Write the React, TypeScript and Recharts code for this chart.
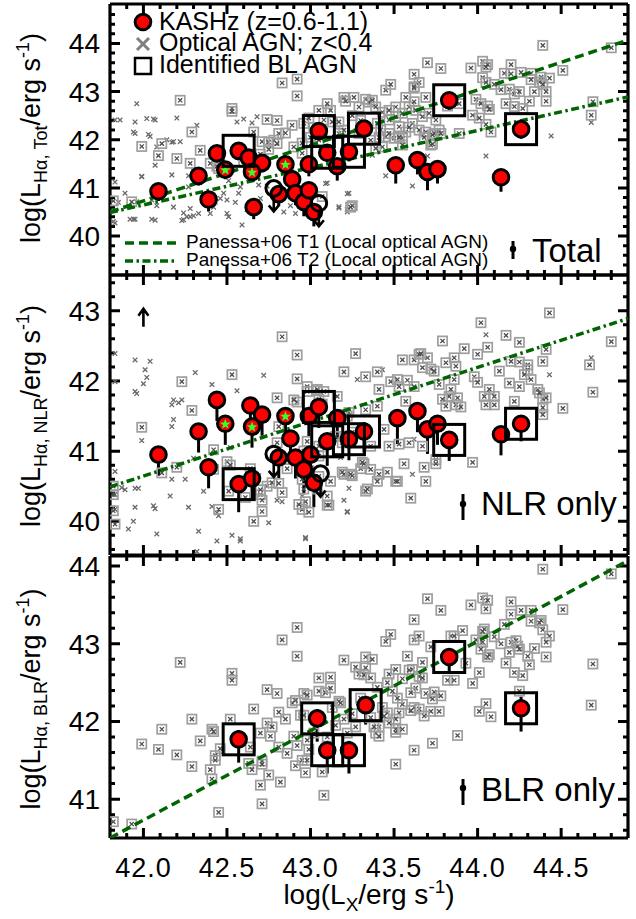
import React from 'react';
import { ScatterChart, Scatter, XAxis, YAxis, ErrorBar, ReferenceLine } from 'recharts';

const FONT = '"Liberation Sans", Arial, Helvetica, sans-serif';
const GREEN = '#006400';
type P = [number, number];

// ---------- axes ----------
const X_DOMAIN: [number, number] = [41.8, 44.9];
const X_MAJOR = [42.0, 42.5, 43.0, 43.5, 44.0, 44.5];
const X_MINOR = [41.9, 42.1, 42.2, 42.3, 42.4, 42.6, 42.7, 42.8, 42.9, 43.1, 43.2, 43.3, 43.4, 43.6, 43.7, 43.8, 43.9, 44.1, 44.2, 44.3, 44.4, 44.6, 44.7, 44.8];

const TOT_DOMAIN: [number, number] = [39.19, 44.82];
const TOT_MAJOR = [40, 41, 42, 43, 44];
const TOT_MINOR = [39.4, 39.6, 39.8, 40.2, 40.4, 40.6, 40.8, 41.2, 41.4, 41.6, 41.8, 42.2, 42.4, 42.6, 42.8, 43.2, 43.4, 43.6, 43.8, 44.2, 44.4, 44.6];

const NLR_DOMAIN: [number, number] = [39.52, 43.51];
const NLR_MAJOR = [40, 41, 42, 43];
const NLR_MINOR = [39.6, 39.8, 40.2, 40.4, 40.6, 40.8, 41.2, 41.4, 41.6, 41.8, 42.2, 42.4, 42.6, 42.8, 43.2, 43.4];

const BLR_DOMAIN: [number, number] = [40.5, 44.13];
const BLR_MAJOR = [41, 42, 43, 44];
const BLR_MINOR = [40.6, 40.8, 41.2, 41.4, 41.6, 41.8, 42.2, 42.4, 42.6, 42.8, 43.2, 43.4, 43.6, 43.8];

// ---------- Panessa+06 relations ----------
const T1_LINE: P[] = [[41.8, 40.5], [44.9, 44.07]];
const T2_LINE: P[] = [[41.8, 40.49], [44.9, 42.89]];

// ---------- KASHz (z=0.6-1.1) ----------
const K_TOT_X = [42.09, 42.33, 42.39, 42.44, 42.57, 42.63, 42.66, 42.71, 42.81, 42.89, 42.91, 42.96, 42.99, 42.99, 43.02, 43.05, 43.10, 43.16, 43.23, 43.32, 43.51, 43.64, 43.70, 43.76, 43.83, 44.14, 44.26];
const K_TOT_Y = [40.93, 41.25, 40.76, 41.72, 41.77, 41.63, 40.60, 41.52, 40.87, 41.18, 40.89, 40.71, 40.95, 41.49, 40.50, 42.18, 41.73, 41.45, 41.75, 42.23, 41.47, 41.58, 41.33, 41.39, 42.82, 41.22, 42.22];
const K_TOT_ELO = [0.2, 0.2, 0.25, 0.2, 0.2, 0.2, 0.25, 0.2, 0.25, 0.25, 0.25, 0.3, 0.25, 0.25, 0.3, 0.2, 0.2, 0.3, 0.2, 0.2, 0.38, 0.3, 0.38, 0.3, 0.2, 0.3, 0.2];
const K_TOT_STAR_X = [42.49, 42.65, 42.85];
const K_TOT_STAR_Y = [41.38, 41.33, 41.49];
const K_TOT_UL_X = [42.78, 43.05];
const K_TOT_UL_Y = [40.99, 40.68];
const BL_TOT_X = [42.57, 43.05, 43.10, 43.23, 43.32, 43.83, 44.26];
const BL_TOT_Y = [41.77, 42.18, 41.73, 41.75, 42.23, 42.82, 42.22];

const K_NLR_X = [42.09, 42.33, 42.39, 42.44, 42.57, 42.64, 42.65, 42.71, 42.81, 42.88, 42.91, 42.96, 43.00, 42.99, 43.02, 43.05, 43.10, 43.16, 43.23, 43.32, 43.52, 43.64, 43.70, 43.76, 43.83, 44.14, 44.26];
const K_NLR_Y = [40.95, 41.28, 40.77, 41.73, 40.53, 41.65, 40.61, 41.52, 40.91, 41.18, 40.91, 40.74, 40.95, 41.50, 40.55, 41.63, 41.14, 41.47, 41.17, 41.28, 41.47, 41.57, 41.31, 41.39, 41.16, 41.24, 41.39];
const K_NLR_ELO = [0.3, 0.3, 0.3, 0.3, 0.4, 0.3, 0.3, 0.3, 0.3, 0.3, 0.3, 0.35, 0.3, 0.3, 0.35, 0.3, 0.35, 0.3, 0.3, 0.3, 0.37, 0.3, 0.35, 0.3, 0.3, 0.3, 0.25];
const K_NLR_STAR_X = [42.49, 42.65, 42.85];
const K_NLR_STAR_Y = [41.39, 41.35, 41.50];
const K_NLR_UL_X = [42.78, 43.06];
const K_NLR_UL_Y = [40.96, 40.68];
const BL_NLR_X = [42.57, 43.05, 43.10, 43.23, 43.32, 43.83, 44.26];
const BL_NLR_Y = [40.53, 41.63, 41.14, 41.17, 41.28, 41.16, 41.39];
const NLR_OFFSCALE: P[] = [[42.0, 42.9]];

const K_BLR_X = [42.57, 43.04, 43.10, 43.23, 43.33, 43.83, 44.26];
const K_BLR_Y = [41.77, 42.04, 41.63, 41.63, 42.21, 42.83, 42.17];
const K_BLR_ELO = [0.3, 0.3, 0.3, 0.3, 0.25, 0.2, 0.3];
const K_BLR_EHI = [0.12, 0.12, 0.12, 0.12, 0.12, 0.1, 0.15];

// ---------- local optical AGN (z<0.4) ----------
const TOT_BL_LOCAL: P[] = [[41.82,40.73],[41.93,40.71],[41.99,41.86],[42.09,41.67],[42.11,41.92],[42.2,41.61],[42.22,42.82],[42.29,42.16],[42.34,41.78],[42.4,41.51],[42.28,41.51],[42.53,42.65],[42.53,42.59],[42.74,42.42],[42.8,42.4],[42.66,42.16],[42.81,42.13],[42.85,42.14],[42.71,41.96],[42.75,41.95],[42.78,41.99],[42.8,41.92],[42.83,43.18],[42.92,43.26],[42.92,42.91],[42.89,42.3],[42.96,42.34],[42.44,41.45],[42.45,41.4],[42.6,41.55],[42.7,41.7],[42.75,41.8],[42.9,41.85],[42.95,41.93],[42.95,41.72],[43.0,42.05],[43.05,41.99],[43.05,42.61],[43.12,42.61],[43.08,42.41],[43.13,42.37],[43.17,42.37],[43.17,42.13],[43.2,42.88],[43.26,42.88],[43.21,42.8],[43.29,42.68],[43.33,42.84],[43.35,42.78],[43.29,42.13],[43.36,41.99],[43.41,42.05],[43.43,41.85],[43.4,42.34],[43.43,42.57],[43.45,43.03],[43.48,43.15],[43.51,42.68],[43.57,42.88],[43.62,43.07],[43.62,43.36],[43.65,43.19],[43.62,43.1],[43.69,42.88],[43.7,43.6],[43.78,43.48],[43.37,42.82],[43.39,42.68],[43.47,42.61],[43.51,42.48],[43.55,42.55],[43.59,42.68],[43.63,42.61],[43.67,42.48],[43.71,42.55],[43.75,42.41],[43.47,42.41],[43.53,42.27],[43.57,42.16],[43.61,42.34],[43.65,42.2],[43.69,42.16],[43.73,42.1],[43.77,42.2],[43.42,42.2],[43.45,42.06],[43.5,42.03],[43.55,42.03],[43.72,41.89],[43.39,41.82],[43.53,42.05],[43.59,42.26],[43.47,42.13],[43.68,42.05],[43.74,42.13],[43.55,41.89],[43.78,42.13],[43.73,41.91],[43.89,42.13],[43.62,42.79],[43.82,42.7],[43.89,42.75],[43.96,43.49],[44.03,43.63],[44.06,43.56],[44.05,43.51],[44.2,43.56],[44.16,43.38],[44.2,43.37],[44.26,43.4],[44.32,43.38],[44.32,43.25],[44.38,43.3],[44.37,43.2],[44.43,43.28],[44.39,43.15],[44.41,43.0],[44.51,43.44],[44.14,43.04],[43.99,42.84],[44.03,43.29],[44.05,43.19],[44.1,43.15],[44.02,42.75],[44.06,42.7],[44.07,42.63],[44.19,43.05],[44.22,42.95],[44.25,43.0],[44.34,43.0],[44.31,42.8],[44.41,42.8],[44.17,42.75],[44.22,42.69],[44.27,42.65],[44.69,42.79],[44.68,42.51],[44.05,42.32],[44.08,42.16],[43.97,42.51],[44.01,42.45],[44.39,43.96],[44.8,43.91],[43.07,40.82],[43.25,40.63],[43.24,40.6],[43.02,42.25],[43.25,42.5],[43.1,42.75],[43.2,42.2],[43.3,42.4],[42.99,42.45]];

const TOT_T2_LOCAL: P[] = [[41.96,42.75],[42.02,42.44],[42.07,42.41],[41.95,42.37],[41.86,42.41],[41.83,42.41],[42.06,42.43],[41.94,42.16],[42.03,42.11],[41.95,42.13],[42.04,42.07],[42.18,41.96],[42.22,41.96],[42.17,41.27],[41.99,41.23],[42.27,41.02],[42.32,42.3],[42.56,42.37],[42.68,42.48],[42.48,40.89],[42.46,40.78],[42.43,40.7],[42.5,40.75],[42.55,40.7],[42.57,40.89],[42.51,40.4],[42.4,40.47],[42.33,40.47],[42.28,40.4],[42.24,40.34],[42.05,40.35],[41.92,40.35],[41.94,40.35],[41.83,40.27],[41.96,40.71],[41.85,40.7],[42.59,40.23],[42.5,40.47],[42.84,40.5],[42.88,40.63],[42.91,40.47],[43.17,40.61],[43.22,40.5],[43.22,40.88],[43.09,41.09],[42.27,41.25],[42.3,41.35],[42.33,41.32],[42.64,41.65],[42.58,41.02],[42.51,41.15],[42.7,40.78],[42.74,41.04],[42.69,41.06],[42.07,41.47],[42.17,41.95],[41.83,41.12],[41.89,40.89],[41.99,41.24],[42.05,40.75],[42.08,40.63],[42.07,40.33],[41.95,40.35],[41.82,40.3],[42.18,40.6],[42.24,40.48],[42.26,40.4],[42.3,40.42],[42.28,40.57],[42.23,40.32],[44.44,42.08],[44.05,41.66],[43.45,41.25],[43.61,41.04],[43.7,41.66],[43.17,40.58],[43.22,40.55],[43.23,40.89],[43.1,41.1],[43.37,41.68],[44.68,42.36],[42.42,40.6],[42.62,40.55],[42.95,40.85],[42.08,41.85],[42.14,42.0],[42.6,42.43],[42.65,42.35],[42.2,42.45]];

const NLR_BL_LOCAL: P[] = [[41.82,40.5],[41.82,40.15],[41.83,39.96],[41.82,40.38],[41.99,41.34],[42.11,40.69],[42.2,40.77],[42.23,41.99],[42.29,41.58],[42.42,41.02],[42.42,40.74],[42.45,40.17],[42.53,42.09],[42.5,40.85],[42.52,40.8],[42.51,40.43],[42.61,40.34],[42.64,40.75],[42.66,40.0],[42.7,40.38],[42.71,40.14],[42.71,40.3],[42.74,40.5],[42.77,40.55],[42.81,40.54],[42.83,40.41],[42.7,40.45],[42.8,41.76],[42.83,42.63],[42.92,42.37],[42.92,42.03],[42.92,41.7],[42.81,41.35],[42.8,41.12],[42.86,40.75],[42.95,40.6],[42.95,40.17],[42.97,40.28],[43.04,41.86],[43.11,40.23],[43.2,42.13],[43.27,42.39],[43.2,40.67],[43.25,40.65],[43.33,40.43],[43.3,40.75],[43.32,40.82],[42.9,41.73],[42.98,41.14],[43.05,41.07],[43.19,41.12],[43.25,41.27],[43.23,41.55],[43.33,41.59],[43.4,41.64],[43.44,41.31],[43.47,41.07],[43.36,41.07],[43.31,40.84],[43.36,40.74],[43.41,40.67],[43.46,40.7],[43.51,40.57],[43.4,40.57],[43.34,40.46],[43.19,40.7],[43.24,40.67],[43.12,40.57],[43.05,40.64],[43.1,40.23],[42.99,40.13],[43.57,41.71],[43.97,40.84],[43.4,42.13],[43.33,42.06],[43.48,41.99],[43.58,42.01],[43.52,42.02],[43.62,42.3],[43.65,42.38],[43.67,42.19],[43.72,42.17],[43.74,42.14],[43.7,42.33],[43.77,41.95],[43.62,41.92],[43.53,41.92],[43.41,41.88],[43.81,42.26],[43.92,42.46],[43.79,42.57],[44.02,42.83],[44.43,42.97],[44.17,42.65],[44.25,42.55],[44.06,42.48],[44.0,42.38],[43.98,42.06],[44.0,41.98],[44.2,42.28],[44.25,42.27],[44.3,42.23],[44.3,42.16],[44.39,42.28],[44.28,42.09],[44.32,42.02],[44.41,42.45],[44.13,42.14],[44.19,41.97],[44.25,41.92],[44.22,41.71],[44.36,41.88],[44.39,41.74],[44.41,41.76],[44.39,41.62],[44.39,41.52],[44.37,41.83],[44.04,41.78],[44.05,41.66],[44.07,41.88],[44.1,41.78],[44.1,41.66],[43.86,42.02],[43.84,41.88],[43.83,41.78],[43.79,41.74],[43.88,41.76],[43.87,41.66],[43.9,41.63],[43.81,41.64],[43.86,42.33],[43.87,42.21],[44.51,41.61],[44.69,41.84],[44.8,42.56],[44.67,42.23],[42.98,41.92],[42.98,41.85],[43.04,41.88],[43.08,41.85],[43.05,41.74],[43.07,41.67],[43.16,41.78],[43.19,41.52],[43.22,41.5],[43.15,41.21],[43.05,40.93],[42.96,41.0],[42.98,40.9],[42.99,40.72],[42.96,40.46],[43.04,40.46],[43.1,40.36],[42.93,40.24],[43.53,41.1],[43.59,41.12],[43.67,41.07],[43.75,40.88],[43.75,40.82],[43.68,40.77],[43.69,40.57],[43.56,40.82],[43.52,40.57],[43.6,40.33],[43.66,42.39],[43.55,42.3]];

const NLR_T2_LOCAL: P[] = [[41.83,42.39],[41.95,42.3],[42.04,42.28],[42.01,42.16],[42.02,42.05],[42.0,41.96],[41.95,41.85],[41.96,41.82],[41.83,41.99],[42.31,42.12],[42.41,41.95],[42.56,41.86],[42.72,42.08],[42.18,41.73],[42.23,41.73],[42.18,41.45],[41.99,41.15],[42.17,41.66],[42.21,41.69],[42.17,41.35],[41.83,40.71],[41.87,40.48],[41.89,40.45],[41.95,40.47],[41.97,40.47],[41.83,40.38],[41.83,40.17],[41.95,40.2],[42.06,40.22],[42.07,40.18],[41.94,40.0],[41.91,39.89],[42.08,39.82],[42.17,40.6],[42.16,40.36],[42.27,40.2],[42.33,39.86],[42.25,40.6],[42.21,40.8],[42.36,40.43],[42.41,40.21],[42.44,40.12],[42.45,40.08],[42.53,39.8],[42.58,39.75],[42.58,39.72],[42.44,39.72],[42.32,39.57],[42.75,39.98],[42.97,39.75],[42.95,40.36],[43.22,40.14],[42.8,40.3],[42.83,40.28],[42.6,40.6],[42.62,40.7],[42.69,40.65],[42.52,41.05],[43.2,40.3],[42.3,40.9],[43.28,42.02],[43.43,42.16],[44.05,42.66],[44.43,42.09],[44.68,42.33],[43.62,41.17],[43.61,40.67],[43.22,40.13],[43.23,40.47],[43.18,40.91],[42.97,39.77]];

const BLR_BL_LOCAL: P[] = [[42.92,43.21],[42.83,43.05],[42.92,42.84],[42.22,42.76],[42.53,42.62],[42.53,42.53],[42.74,42.41],[42.8,42.36],[42.66,42.16],[42.29,42.03],[42.11,41.9],[41.99,41.71],[42.09,41.64],[42.2,41.57],[42.29,41.42],[42.34,41.75],[42.41,41.9],[42.42,41.87],[42.46,41.65],[42.43,41.56],[42.43,41.5],[42.4,41.38],[42.41,41.26],[42.52,42.03],[42.64,41.67],[42.63,41.46],[42.65,41.38],[42.71,41.49],[42.71,41.45],[42.75,41.31],[42.7,41.18],[42.82,41.22],[42.71,40.94],[42.45,40.83],[41.93,40.68],[41.82,40.71],[42.7,41.85],[42.74,41.98],[42.77,41.93],[42.76,41.81],[42.81,42.12],[42.85,42.03],[42.81,41.67],[42.86,41.59],[42.89,42.24],[42.91,42.27],[42.96,42.36],[42.94,42.08],[42.9,41.81],[42.92,41.69],[42.91,41.43],[42.95,41.5],[42.97,41.34],[42.99,41.64],[43.05,42.56],[43.12,42.57],[43.05,42.39],[43.09,42.37],[43.12,42.43],[43.17,42.26],[43.2,42.79],[43.27,42.7],[43.29,42.61],[43.33,42.83],[43.07,41.35],[43.08,41.05],[43.2,42.03],[43.33,42.69],[43.32,42.6],[43.4,42.44],[43.43,42.18],[43.46,42.11],[43.41,41.93],[43.51,41.86],[43.39,41.85],[43.18,42.24],[43.13,42.18],[42.98,42.34],[42.96,42.08],[42.98,41.76],[42.98,41.5],[43.27,41.93],[43.36,42.05],[43.25,42.1],[43.15,41.95],[43.22,41.85],[43.3,42.3],[43.02,41.85],[43.1,41.8],[44.39,43.96],[44.8,43.9],[43.7,43.58],[43.78,43.43],[43.62,43.31],[43.48,43.12],[43.45,43.03],[43.62,43.05],[43.65,43.1],[43.96,43.5],[44.03,43.59],[44.06,43.56],[44.05,43.45],[44.2,43.54],[44.2,43.38],[44.26,43.43],[44.32,43.43],[44.32,43.29],[44.38,43.3],[44.37,43.27],[44.39,43.18],[44.43,43.1],[44.41,43.02],[44.51,43.44],[44.16,43.25],[44.1,43.09],[44.04,43.19],[44.03,43.16],[43.99,43.05],[44.03,43.02],[44.02,42.93],[44.07,42.86],[44.06,42.83],[44.14,43.0],[44.2,43.02],[44.23,43.04],[44.19,42.89],[44.24,42.97],[44.25,42.93],[44.3,42.84],[44.34,42.94],[44.31,42.73],[44.41,42.83],[44.17,42.75],[44.22,42.63],[44.27,42.59],[44.69,42.74],[44.68,42.21],[44.25,42.39],[44.05,42.23],[44.01,42.13],[44.08,42.06],[44.01,42.63],[43.97,42.49],[43.88,41.82],[43.73,41.72],[43.62,41.63],[43.51,41.45],[43.58,42.84],[43.67,42.76],[43.72,42.96],[43.84,43.1],[43.86,43.1],[43.91,43.17],[43.93,42.75],[43.82,42.53],[43.86,42.53],[43.61,42.67],[43.59,42.66],[43.65,42.58],[43.67,42.56],[43.63,42.43],[43.6,42.37],[43.69,42.36],[43.74,42.38],[43.78,42.33],[43.73,42.29],[43.77,42.13],[43.72,42.13],[43.68,42.07],[43.65,42.16],[43.62,42.18],[43.6,42.14],[43.55,42.22],[43.52,42.3],[43.53,42.11],[43.51,42.03],[43.51,41.9],[43.55,41.9],[43.47,41.98],[43.44,42.07],[43.41,41.81],[43.38,41.93],[43.37,42.8],[43.36,42.56],[43.47,42.61],[43.51,42.67],[43.55,42.55],[43.46,42.5],[43.49,42.39]];

// ---------- helpers ----------
const pts = (list: P[]) => list.map(([x, y]) => ({ x, y }));
const zipPts = (xs: number[], ys: number[], lo?: number[], hi?: number[]) =>
  xs.map((x, i) => ({ x, y: ys[i], err: [lo ? lo[i] : 0, hi ? hi[i] : 0] }));

const ok = (p: any) => Number.isFinite(p.cx) && Number.isFinite(p.cy);

const BoxCross = (p: any) => {
  if (!ok(p)) return <g />;
  const { cx, cy } = p;
  const s = 4.6, c = 2.1;
  return (
    <g>
      <rect x={cx - s} y={cy - s} width={2 * s} height={2 * s} fill="none" stroke="#9e9e9e" strokeWidth={1.7} />
      <path d={`M${cx - c} ${cy - c}L${cx + c} ${cy + c}M${cx - c} ${cy + c}L${cx + c} ${cy - c}`} stroke="#4d4d4d" strokeWidth={1.3} fill="none" />
    </g>
  );
};
const Cross = (p: any) => {
  if (!ok(p)) return <g />;
  const { cx, cy } = p;
  const c = 2.3;
  return <path d={`M${cx - c} ${cy - c}L${cx + c} ${cy + c}M${cx - c} ${cy + c}L${cx + c} ${cy - c}`} stroke="#6a6a6a" strokeWidth={1.3} fill="none" />;
};
const RedDot = (p: any) => {
  if (!ok(p)) return <g />;
  return <circle cx={p.cx} cy={p.cy} r={7.8} fill="#ff0000" stroke="#000" strokeWidth={3} />;
};
const starPath = (cx: number, cy: number, R: number, r: number) => {
  let d = '';
  for (let i = 0; i < 10; i++) {
    const a = -Math.PI / 2 + (i * Math.PI) / 5;
    const rr = i % 2 === 0 ? R : r;
    d += `${i === 0 ? 'M' : 'L'}${cx + rr * Math.cos(a)} ${cy + rr * Math.sin(a)}`;
  }
  return d + 'Z';
};
const StarDot = (p: any) => {
  if (!ok(p)) return <g />;
  return (
    <g>
      <circle cx={p.cx} cy={p.cy} r={7.8} fill="#ff0000" stroke="#000" strokeWidth={3} />
      <path d={starPath(p.cx, p.cy + 0.5, 5.5, 2.3)} fill="#33ff33" />
    </g>
  );
};
const UpperLimit = (p: any) => {
  if (!ok(p)) return <g />;
  const { cx, cy } = p;
  return (
    <g>
      <circle cx={cx} cy={cy} r={7.8} fill="none" stroke="#000" strokeWidth={3} />
      <path d={`M${cx} ${cy + 8}L${cx} ${cy + 23}M${cx - 5} ${cy + 17}L${cx} ${cy + 23}L${cx + 5} ${cy + 17}`} stroke="#000" strokeWidth={2.6} fill="none" />
    </g>
  );
};
const BigBox = (p: any) => {
  if (!ok(p)) return <g />;
  return <rect x={p.cx - 15.5} y={p.cy - 15.5} width={31} height={31} fill="none" stroke="#000" strokeWidth={3} />;
};
const UpArrow = (p: any) => {
  if (!ok(p)) return <g />;
  const { cx, cy } = p;
  return <path d={`M${cx} ${cy + 9}L${cx} ${cy - 8}M${cx - 5} ${cy - 2}L${cx} ${cy - 9}L${cx + 5} ${cy - 2}`} stroke="#000" strokeWidth={2.6} fill="none" />;
};
const NoShape = () => <g />;

// inward tick marks at both ends of a reference line through each tick value
const fin = (...v: any[]) => v.every((n) => Number.isFinite(Number(n)));
const makeVTick = (len: number) => (p: any) => {
  const { x1, y1, x2, y2 } = p;
  if (!fin(x1, y1, x2, y2)) return <g />;
  const top = Math.min(y1, y2), bot = Math.max(y1, y2);
  return <path d={`M${x1} ${bot}L${x1} ${bot - len}M${x1} ${top}L${x1} ${top + len}`} stroke="#000" strokeWidth={3} fill="none" />;
};
const makeHTick = (len: number) => (p: any) => {
  const { x1, y1, x2, y2 } = p;
  if (!fin(x1, y1, x2, y2)) return <g />;
  const l = Math.min(x1, x2), r = Math.max(x1, x2);
  return <path d={`M${l} ${y1}L${l + len} ${y1}M${r} ${y1}L${r - len} ${y1}`} stroke="#000" strokeWidth={3} fill="none" />;
};
const VTickMaj = makeVTick(10);
const VTickMin = makeVTick(5);
const HTickMaj = makeHTick(10);
const HTickMin = makeHTick(5);

// ---------- panel ----------
type PanelProps = {
  top: number;
  height: number;
  yDomain: [number, number];
  yMajor: number[];
  yMinor: number[];
  showX: boolean;
  children: React.ReactNode;
};

const axisLine = { stroke: '#000', strokeWidth: 3.2 };

function Panel({ top, height, yDomain, yMajor, yMinor, showX, children }: PanelProps) {
  return (
    <div style={{ position: 'absolute', left: 0, top, width: 636, height }}>
      <ScatterChart width={636} height={height} margin={{ top: 4, right: 8, bottom: showX ? 0 : 3, left: 0 }}>
        <XAxis xAxisId="x" type="number" dataKey="x" domain={X_DOMAIN} allowDataOverflow ticks={X_MAJOR} interval={0}
          orientation="bottom" height={showX ? 81 : 1} axisLine={axisLine} tickLine={false} tickSize={0} tickMargin={20}
          tick={showX ? { fontSize: 27, fill: '#000', fontFamily: FONT, letterSpacing: 1 } : false}
          tickFormatter={(v: number) => Number(v).toFixed(1)} />
        <YAxis yAxisId="y" type="number" dataKey="y" domain={yDomain} allowDataOverflow ticks={yMajor} interval={0}
          orientation="left" width={110} axisLine={axisLine} tickLine={false} tickSize={0} tickMargin={10}
          tick={{ fontSize: 28, fill: '#000', fontFamily: FONT }} />
        {children}
        <ReferenceLine xAxisId="x" yAxisId="y" y={yDomain[1]} ifOverflow="visible" stroke="#000" strokeWidth={3.2} />
        <ReferenceLine xAxisId="x" yAxisId="y" x={X_DOMAIN[1]} ifOverflow="visible" stroke="#000" strokeWidth={3.2} />
        {X_MAJOR.map((v) => (
          <ReferenceLine key={`vM${v}`} xAxisId="x" yAxisId="y" x={v} ifOverflow="visible" shape={VTickMaj} />
        ))}
        {X_MINOR.map((v) => (
          <ReferenceLine key={`vm${v}`} xAxisId="x" yAxisId="y" x={v} ifOverflow="visible" shape={VTickMin} />
        ))}
        {yMajor.map((v) => (
          <ReferenceLine key={`hM${v}`} xAxisId="x" yAxisId="y" y={v} ifOverflow="visible" shape={HTickMaj} />
        ))}
        {yMinor.map((v) => (
          <ReferenceLine key={`hm${v}`} xAxisId="x" yAxisId="y" y={v} ifOverflow="visible" shape={HTickMin} />
        ))}
      </ScatterChart>
    </div>
  );
}

const T1_STYLE = { stroke: GREEN, strokeWidth: 3.5, strokeDasharray: '9 5' };
const T2_STYLE = { stroke: GREEN, strokeWidth: 3.5, strokeDasharray: '8 3.5 2.5 3.5' };

const ax = { xAxisId: 'x', yAxisId: 'y', isAnimationActive: false } as const;

const errBar = (
  <ErrorBar dataKey="err" direction="y" width={0} stroke="#000" strokeWidth={3} isAnimationActive={false} />
);

function LabelY({ cy, sub }: { cy: number; sub: string }) {
  return (
    <text transform={`rotate(-90 40 ${cy})`} x={40} y={cy} textAnchor="middle" fontFamily={FONT} fontSize={27} fill="#000">
      log(L<tspan fontSize={18} dy={7}>{sub}</tspan>
      <tspan dy={-7}>/erg s</tspan>
      <tspan fontSize={18} dy={-11}>-1</tspan>
      <tspan dy={11}>)</tspan>
    </text>
  );
}

function ErrIcon({ x, y1, y2, yd }: { x: number; y1: number; y2: number; yd: number }) {
  return (
    <g>
      <line x1={x} x2={x} y1={y1} y2={y2} stroke="#000" strokeWidth={3} />
      <circle cx={x} cy={yd} r={3.2} fill="#000" />
    </g>
  );
}

function Overlay() {
  return (
    <svg width={636} height={919} style={{ position: 'absolute', left: 0, top: 0, pointerEvents: 'none' }}>
      {/* top legend */}
      <circle cx={143} cy={22} r={7.8} fill="#ff0000" stroke="#000" strokeWidth={3} />
      <text x={159} y={30} fontFamily={FONT} fontSize={25}>KASHz (z=0.6-1.1)</text>
      <path d="M137 38L149 50M137 50L149 38" stroke="#808080" strokeWidth={3} />
      <text x={159} y={51} fontFamily={FONT} fontSize={25}>Optical AGN; z&lt;0.4</text>
      <rect x={135} y={58} width={16} height={16} fill="none" stroke="#000" strokeWidth={2.5} />
      <text x={159} y={73} fontFamily={FONT} fontSize={25}>Identified BL AGN</text>

      {/* Panessa legend */}
      <line x1={125} x2={177} y1={243} y2={243} {...T1_STYLE} />
      <text x={186} y={248} fontFamily={FONT} fontSize={19}>Panessa+06 T1 (Local optical AGN)</text>
      <line x1={125} x2={177} y1={261} y2={261} {...T2_STYLE} />
      <text x={186} y={266} fontFamily={FONT} fontSize={19}>Panessa+06 T2 (Local optical AGN)</text>

      {/* panel annotations */}
      <ErrIcon x={513} y1={241} y2={259} yd={249} />
      <text x={532} y={262} fontFamily={FONT} fontSize={33}>Total</text>
      <ErrIcon x={463} y1={494} y2={520} yd={504} />
      <text x={481} y={515} fontFamily={FONT} fontSize={33}>NLR only</text>
      <ErrIcon x={463} y1={779} y2={805} yd={788} />
      <text x={481} y={801} fontFamily={FONT} fontSize={33}>BLR only</text>

      {/* axis titles */}
      <LabelY cy={138} sub="Hα, Tot" />
      <LabelY cy={416} sub="Hα, NLR" />
      <LabelY cy={699} sub="Hα, BLR" />
      <text x={369} y={904} textAnchor="middle" fontFamily={FONT} fontSize={28}>
        log(L<tspan fontSize={19} dy={7}>X</tspan>
        <tspan dy={-7}>/erg s</tspan>
        <tspan fontSize={19} dy={-11}>-1</tspan>
        <tspan dy={11}>)</tspan>
      </text>
    </svg>
  );
}

export default function App() {
  return (
    <div style={{ position: 'absolute', left: 0, top: 0, width: 636, height: 919, background: '#fff', fontFamily: FONT }}>
      <Panel top={0} height={279} yDomain={TOT_DOMAIN} yMajor={TOT_MAJOR} yMinor={TOT_MINOR} showX={false}>
        <Scatter {...ax} data={pts(TOT_T2_LOCAL)} shape={Cross} />
        <Scatter {...ax} data={pts(TOT_BL_LOCAL)} shape={BoxCross} />
        <Scatter {...ax} data={pts(T1_LINE)} shape={NoShape} line={T1_STYLE} />
        <Scatter {...ax} data={pts(T2_LINE)} shape={NoShape} line={T2_STYLE} />
        <Scatter {...ax} data={zipPts(K_TOT_X, K_TOT_Y, K_TOT_ELO)} shape={RedDot}>{errBar}</Scatter>
        <Scatter {...ax} data={zipPts(K_TOT_STAR_X, K_TOT_STAR_Y, [0.2, 0.2, 0.2])} shape={StarDot}>{errBar}</Scatter>
        <Scatter {...ax} data={zipPts(K_TOT_UL_X, K_TOT_UL_Y)} shape={UpperLimit} />
        <Scatter {...ax} data={zipPts(BL_TOT_X, BL_TOT_Y)} shape={BigBox} />
      </Panel>
      <Panel top={271} height={288} yDomain={NLR_DOMAIN} yMajor={NLR_MAJOR} yMinor={NLR_MINOR} showX={false}>
        <Scatter {...ax} data={pts(NLR_T2_LOCAL)} shape={Cross} />
        <Scatter {...ax} data={pts(NLR_BL_LOCAL)} shape={BoxCross} />
        <Scatter {...ax} data={pts(T2_LINE)} shape={NoShape} line={T2_STYLE} />
        <Scatter {...ax} data={zipPts(K_NLR_X, K_NLR_Y, K_NLR_ELO)} shape={RedDot}>{errBar}</Scatter>
        <Scatter {...ax} data={zipPts(K_NLR_STAR_X, K_NLR_STAR_Y, [0.3, 0.3, 0.3])} shape={StarDot}>{errBar}</Scatter>
        <Scatter {...ax} data={zipPts(K_NLR_UL_X, K_NLR_UL_Y)} shape={UpperLimit} />
        <Scatter {...ax} data={zipPts(BL_NLR_X, BL_NLR_Y)} shape={BigBox} />
        <Scatter {...ax} data={pts(NLR_OFFSCALE)} shape={UpArrow} />
      </Panel>
      <Panel top={552} height={367} yDomain={BLR_DOMAIN} yMajor={BLR_MAJOR} yMinor={BLR_MINOR} showX={true}>
        <Scatter {...ax} data={pts(BLR_BL_LOCAL)} shape={BoxCross} />
        <Scatter {...ax} data={pts(T1_LINE)} shape={NoShape} line={T1_STYLE} />
        <Scatter {...ax} data={zipPts(K_BLR_X, K_BLR_Y, K_BLR_ELO, K_BLR_EHI)} shape={RedDot}>{errBar}</Scatter>
        <Scatter {...ax} data={zipPts(K_BLR_X, K_BLR_Y)} shape={BigBox} />
      </Panel>
      <Overlay />
    </div>
  );
}
